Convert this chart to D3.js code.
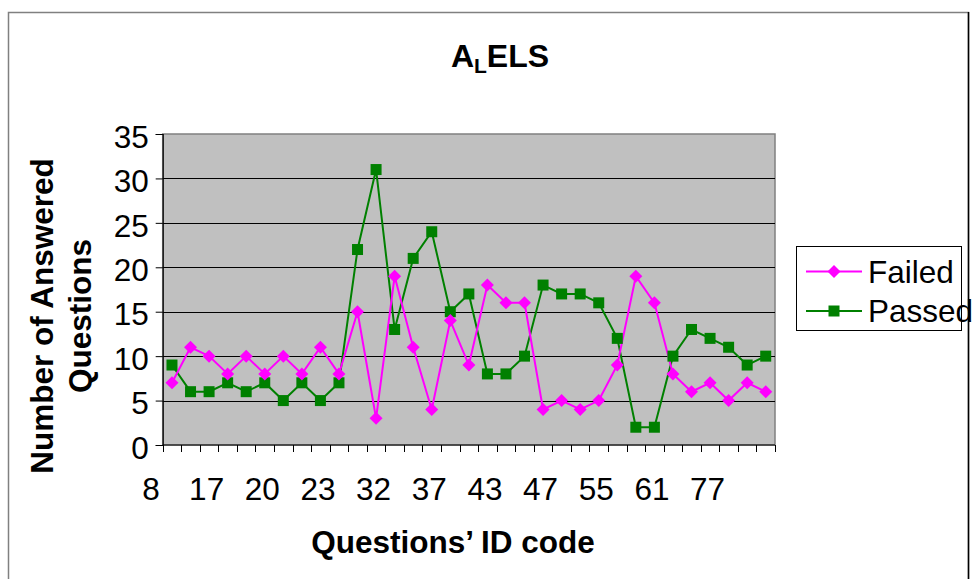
<!DOCTYPE html>
<html><head><meta charset="utf-8">
<script src="https://cdn.jsdelivr.net/npm/d3@7"></script>
<style>
html,body{margin:0;padding:0;background:#fff;}
svg text{font-family:Arial,"Liberation Sans",sans-serif;fill:#000;}
</style></head>
<body>
<svg id="chart" width="976" height="579"></svg>
<script>
const categories = d3.range(1, 34);
const tickLabels = ["8","17","20","23","32","37","43","47","55","61","77"];
const failed = [7,11,10,8,10,8,10,8,11,8,15,3,19,11,4,14,9,18,16,16,4,5,4,5,9,19,16,8,6,7,5,7,6];
const passed = [9,6,6,7,6,7,5,7,5,7,22,31,13,21,24,15,17,8,8,10,18,17,17,16,12,2,2,10,13,12,11,9,10];
const seriesNames = ["Failed","Passed"];
const yTicks = [0,5,10,15,20,25,30,35];

const svg = d3.select("#chart");
const W = 976, H = 579;
const plot = {left:162.7, right:775, top:134, bottom:445};
const FS = 31.5;

// outer chart border
svg.append("rect").attr("x",8.5).attr("y",12.5).attr("width",960).attr("height",H)
  .attr("fill","#fff").attr("stroke","#808080").attr("stroke-width",1.5);
svg.append("line").attr("x1",968.5).attr("x2",968.5).attr("y1",12).attr("y2",H)
  .attr("stroke","#000").attr("stroke-width",1.5);

const x = d3.scaleBand().domain(d3.range(categories.length)).range([plot.left, plot.right]).padding(0);
const y = d3.scaleLinear().domain([0,35]).range([plot.bottom, plot.top]);

// plot area
svg.append("rect").attr("x",plot.left).attr("y",plot.top)
  .attr("width",plot.right-plot.left).attr("height",plot.bottom-plot.top)
  .attr("fill","#C0C0C0").attr("stroke","#808080").attr("stroke-width",1.5);

// gridlines
svg.append("g").selectAll("line").data(yTicks.filter(d=>d>0 && d<35)).join("line")
  .attr("x1",plot.left).attr("x2",plot.right)
  .attr("y1",d=>Math.round(y(d))+0.5).attr("y2",d=>Math.round(y(d))+0.5)
  .attr("stroke","#000").attr("stroke-width",1);

// y axis
const yAxis = svg.append("g").attr("transform",`translate(${plot.left},0)`)
  .call(d3.axisLeft(y).tickValues(yTicks).tickSize(7).tickPadding(7));
yAxis.select(".domain").attr("stroke","#000").attr("stroke-width",1.2);
yAxis.selectAll(".tick line").attr("stroke","#000");
yAxis.selectAll("text").attr("font-size",FS).attr("fill","#000").attr("dy","0.42em")
  .style("font-family",'Arial,"Liberation Sans",sans-serif');

// x axis line and ticks at category boundaries
svg.append("line").attr("x1",plot.left).attr("x2",plot.right).attr("y1",plot.bottom).attr("y2",plot.bottom)
  .attr("stroke","#000").attr("stroke-width",1.2);
const bounds = d3.range(categories.length+1).map(i => i<categories.length ? x(i) : x(i-1)+x.bandwidth());
svg.append("g").selectAll("line").data(bounds).join("line")
  .attr("x1",d=>Math.round(d)+0.5).attr("x2",d=>Math.round(d)+0.5)
  .attr("y1",plot.bottom).attr("y2",plot.bottom+7).attr("stroke","#000");

// x tick labels (every 3rd category, drawn offset left as in reference)
svg.append("g").selectAll("text").data(tickLabels).join("text")
  .attr("x",(d,i)=>x(i*3)+x.bandwidth()/2-21)
  .attr("y",500).attr("text-anchor","middle").attr("font-size",FS).text(d=>d);

// lines
const line = d3.line().x((d,i)=>x(i)+x.bandwidth()/2).y(d=>y(d));
svg.append("path").datum(passed).attr("d",line).attr("fill","none").attr("stroke","#008000").attr("stroke-width",2);
svg.append("path").datum(failed).attr("d",line).attr("fill","none").attr("stroke","#FF00FF").attr("stroke-width",2);

function diamondPath(s){ return `M0,${-s}L${s},0L0,${s}L${-s},0Z`; }

svg.append("g").selectAll("rect").data(passed).join("rect")
  .attr("x",(d,i)=>x(i)+x.bandwidth()/2-5.5).attr("y",d=>y(d)-5.5)
  .attr("width",11).attr("height",11).attr("fill","#008000");
svg.append("g").selectAll("path").data(failed).join("path")
  .attr("transform",(d,i)=>`translate(${x(i)+x.bandwidth()/2},${y(d)})`)
  .attr("d",diamondPath(6.5)).attr("fill","#FF00FF");

// title
const title = svg.append("text").attr("x",500).attr("y",67).attr("text-anchor","middle")
  .attr("font-size",32).attr("font-weight","bold");
title.append("tspan").text("A");
title.append("tspan").attr("font-size",21).attr("dy",6).text("L");
title.append("tspan").attr("dy",-6).text("ELS");

// axis titles
svg.append("text").attr("x",453).attr("y",553).attr("text-anchor","middle")
  .attr("font-size",FS).attr("font-weight","bold").text("Questions\u2019 ID code");
svg.append("text").attr("transform","translate(53,316) rotate(-90)").attr("text-anchor","middle")
  .attr("font-size",FS).attr("font-weight","bold").text("Number of Answered");
svg.append("text").attr("transform","translate(91,316) rotate(-90)").attr("text-anchor","middle")
  .attr("font-size",FS).attr("font-weight","bold").text("Questions");

// legend
const lg = svg.append("g");
lg.append("rect").attr("x",796.5).attr("y",246.5).attr("width",165).attr("height",84)
  .attr("fill","#fff").attr("stroke","#000").attr("stroke-width",1);
const ly = [271.5, 311];
const colors = ["#FF00FF","#008000"];
seriesNames.forEach((n,i)=>{
  lg.append("line").attr("x1",806).attr("x2",862).attr("y1",ly[i]).attr("y2",ly[i])
    .attr("stroke",colors[i]).attr("stroke-width",2);
  if(i===0) lg.append("path").attr("transform",`translate(834,${ly[i]})`).attr("d",diamondPath(6.5)).attr("fill",colors[i]);
  else lg.append("rect").attr("x",834-5.5).attr("y",ly[i]-5.5).attr("width",11).attr("height",11).attr("fill",colors[i]);
  lg.append("text").attr("x",868).attr("y",ly[i]+11).attr("font-size",FS).text(n);
});
</script>
</body></html>
